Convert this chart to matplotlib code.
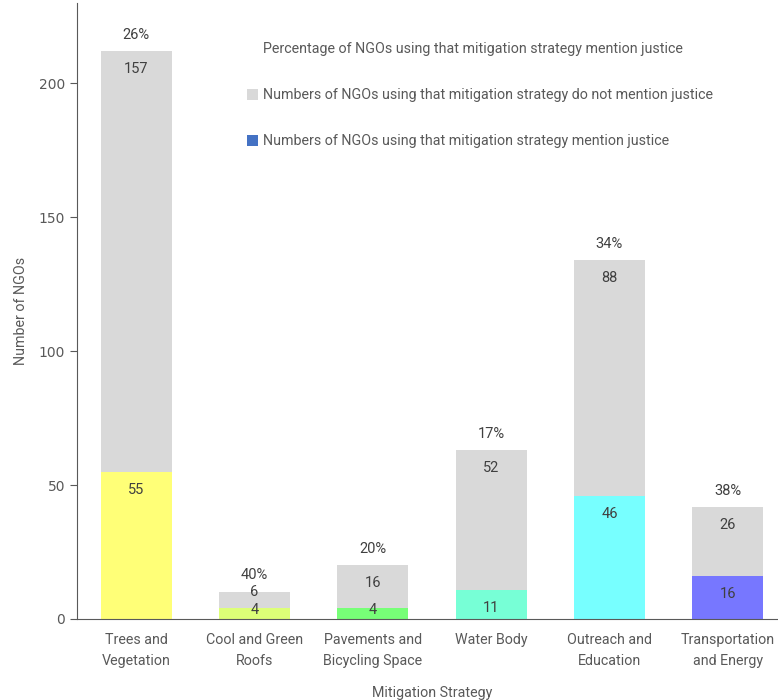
import numpy as np
import matplotlib.pyplot as plt
from matplotlib.patches import Patch

plt.rcParams['font.family'] = ['Roboto', 'DejaVu Sans']

categories = ["Trees and\nVegetation", "Cool and Green\nRoofs", "Pavements and\nBicycling Space",
              "Water Body", "Outreach and\nEducation", "Transportation\nand Energy"]
mention = [55, 4, 4, 11, 46, 16]
no_mention = [157, 6, 16, 52, 88, 26]
percent = ["26%", "40%", "20%", "17%", "34%", "38%"]
bar_colors = ["#FFFF77", "#DDFF77", "#77FF77", "#77FFD6", "#77FFFF", "#7777FF"]
gray = "#D9D9D9"
txt = "#595959"

fig = plt.figure(figsize=(7.78, 7.0), dpi=100)
ax = fig.add_axes([77/778, 1-619/700, (787-77)/778, (619-3)/700])

x = np.arange(len(categories))
mention = np.array(mention)
no_mention = np.array(no_mention)
ax.bar(x, mention, width=0.6, color=bar_colors)
ax.bar(x, no_mention, width=0.6, bottom=mention, color=gray)

ax.set_xlim(-0.5, 5.5)
ax.set_ylim(0, 230)

# label placement in pixels (Excel "inside end" style)
ppu = 616 / 230.0  # pixels per unit
lab_h = 16
for i in range(len(x)):
    top1 = mention[i] * ppu
    top2 = (mention[i] + no_mention[i]) * ppu
    y1 = max(top1 - 18, lab_h / 2 + 1)
    y2 = max(top2 - 18, top1 + lab_h / 2 + 1)
    if y2 - y1 < lab_h + 2:
        y2 = y1 + lab_h + 2
    y3 = top2 + 16
    if y3 - y2 < lab_h:
        y3 = y2 + lab_h + 1
    ax.text(x[i], y1 / ppu, str(mention[i]), ha='center', va='center', fontsize=10.5, color="#404040")
    ax.text(x[i], y2 / ppu, str(no_mention[i]), ha='center', va='center', fontsize=10.5, color="#404040")
    ax.text(x[i], y3 / ppu, percent[i], ha='center', va='center', fontsize=10.5, color="#404040")

ax.set_xticks(x)
ax.set_xticklabels(categories, fontsize=10.3, color=txt, linespacing=1.65)
ax.tick_params(axis='x', length=0, pad=10)
ax.set_yticks([0, 50, 100, 150, 200])
ax.tick_params(axis='y', labelcolor=txt, color=txt, length=5, direction='out')
for lab in ax.get_yticklabels():
    lab.set_family('DejaVu Sans')
    lab.set_fontsize(10)

ax.spines['top'].set_visible(False)
ax.spines['right'].set_visible(False)
ax.spines['left'].set_color(txt)
ax.spines['bottom'].set_color(txt)

ax.set_xlabel("Mitigation Strategy", fontsize=10.3, color=txt, labelpad=13)
ax.set_ylabel("Number of NGOs", fontsize=10.3, color=txt, labelpad=8)

handles = [Patch(facecolor='none', edgecolor='none'),
           Patch(facecolor=gray, edgecolor='none'),
           Patch(facecolor="#4472C4", edgecolor='none')]
labels = ["Percentage of NGOs using that mitigation strategy mention justice",
          "Numbers of NGOs using that mitigation strategy do not mention justice",
          "Numbers of NGOs using that mitigation strategy mention justice"]
leg = ax.legend(handles, labels, loc='upper left', bbox_to_anchor=(234/778, 1 - 29/700),
                bbox_transform=fig.transFigure, frameon=False, fontsize=10.3,
                handlelength=0.8, handleheight=0.8, handletextpad=0.3, labelspacing=2.25)
for t in leg.get_texts():
    t.set_color(txt)

fig.savefig("out.png", dpi=100)
